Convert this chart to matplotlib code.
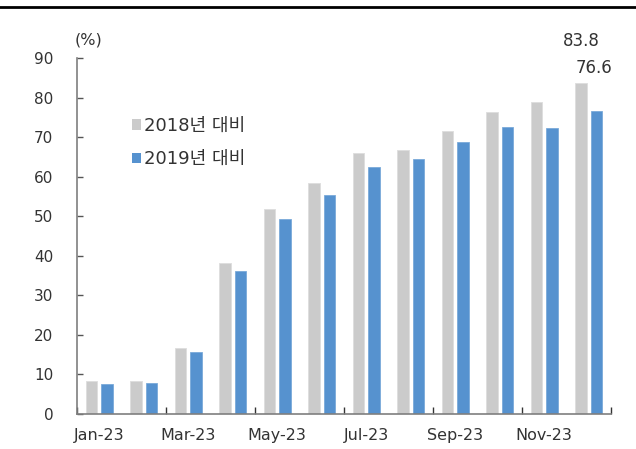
import matplotlib
matplotlib.use("Agg")
import matplotlib.pyplot as plt
import numpy as np
from matplotlib.patches import Patch
from matplotlib.lines import Line2D

plt.rcParams['font.family'] = ['DejaVu Sans', 'Noto Sans CJK KR']

months = ["Jan-23", "Feb-23", "Mar-23", "Apr-23", "May-23", "Jun-23",
          "Jul-23", "Aug-23", "Sep-23", "Oct-23", "Nov-23", "Dec-23"]
vs2018 = [8.3, 8.4, 16.8, 38.3, 51.9, 58.5, 65.9, 66.7, 71.5, 76.3, 78.8, 83.8]
vs2019 = [7.7, 7.8, 15.8, 36.2, 49.2, 55.4, 62.5, 64.5, 68.7, 72.5, 72.3, 76.6]
series_names = ["2018년 대비", "2019년 대비"]
yticks = [0, 10, 20, 30, 40, 50, 60, 70, 80, 90]

c_gray = "#CBCBCB"
c_blue = "#5692CF"
txt = "#333333"

fig = plt.figure(figsize=(6.36, 4.49), dpi=100)
ax = fig.add_axes([77/636, 1 - 414/449, (611-77)/636, (414-58)/449])

x = np.arange(len(months))
w = 0.265
off = 0.175
ax.bar(x - off, vs2018, width=w, color=c_gray, edgecolor="#DDDDDD", linewidth=0.6)
ax.bar(x + off, vs2019, width=w, color=c_blue, edgecolor="#7AAAD9", linewidth=0.6)

ax.set_xlim(-0.5, len(months) - 0.5)
ax.set_ylim(0, 90)

for s in ["top", "right"]:
    ax.spines[s].set_visible(False)
for s in ["left", "bottom"]:
    ax.spines[s].set_color("#7F7F7F")
    ax.spines[s].set_linewidth(1.2)

ax.set_yticks(yticks)
ax.set_yticklabels([str(v) for v in yticks])
ax.tick_params(axis="y", direction="in", length=4, width=1, color="#555555",
               labelsize=11, labelcolor=txt, pad=17)

ax.set_xticks(np.arange(-0.5, len(months), 2))
ax.set_xticklabels([])
ax.set_xticks(x[::2], minor=True)
ax.set_xticklabels(months[::2], minor=True)
ax.tick_params(axis="x", which="major", direction="in", length=5, width=1, color="#333333")
ax.tick_params(axis="x", which="minor", length=0, labelsize=11.5, labelcolor=txt, pad=10)

ax.annotate(f"{vs2018[-1]}", (x[-1] - off, vs2018[-1]), xytext=(0, 30),
            textcoords="offset points", ha="center", va="center", fontsize=12, color=txt)
ax.annotate(f"{vs2019[-1]}", (x[-1] + off, vs2019[-1]), xytext=(-2, 31),
            textcoords="offset points", ha="center", va="center", fontsize=12, color=txt)

ax.text(89/636, 1 - 40/449, "(%)", transform=fig.transFigure, ha="center", va="center",
        fontsize=11.5, color=txt)

handles = [Patch(facecolor=c_gray, edgecolor="none"), Patch(facecolor=c_blue, edgecolor="none")]
leg = ax.legend(handles, series_names, loc="upper left", frameon=False,
                bbox_to_anchor=(132/636, 1 - 117/449), bbox_transform=fig.transFigure,
                fontsize=13, handlelength=0.52, handleheight=0.52, handletextpad=0.15,
                labelspacing=0.85, borderpad=0, borderaxespad=0)
for t in leg.get_texts():
    t.set_color(txt)

fig.add_artist(Line2D([0, 1], [1 - 7/449, 1 - 7/449], transform=fig.transFigure,
                      color="black", linewidth=2))

fig.savefig("out.png", dpi=100, facecolor="white")
